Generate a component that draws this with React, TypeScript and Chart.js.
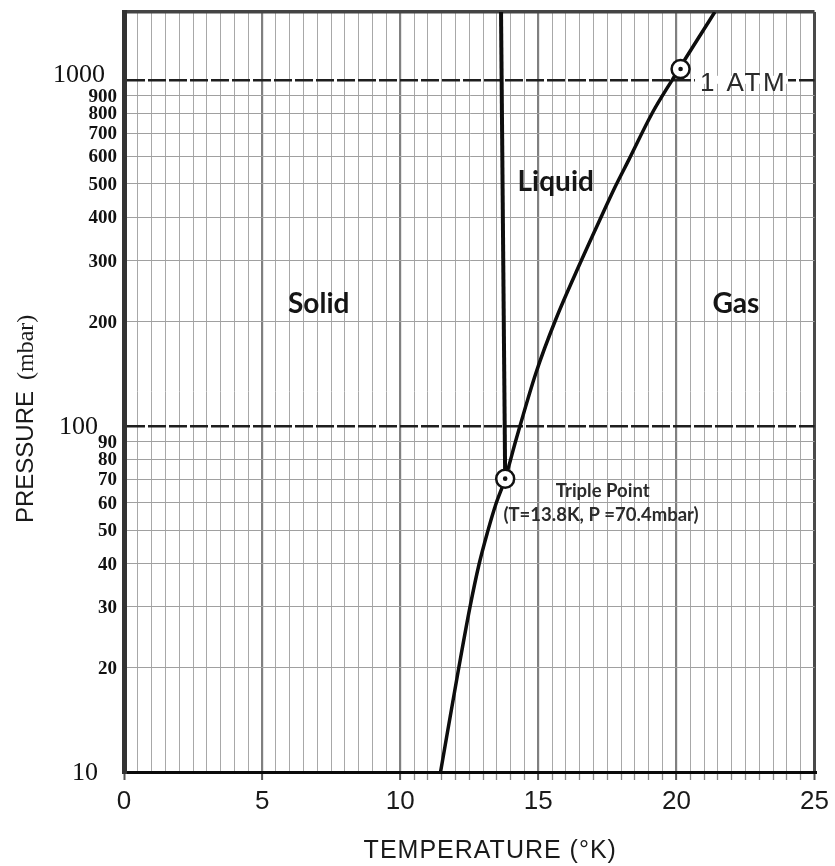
import React, { useEffect, useRef } from 'react';
import { Chart, registerables } from 'chart.js';

Chart.register(...registerables);

// ---------------- data ----------------
const T_MIN = 0;
const T_MAX = 25;
const T_STEP = 0.5;
const P_MIN = 10;
const P_MAX = 1570;

const xTickLabels = [0, 5, 10, 15, 20, 25];
const yMajorTicks = [10, 100, 1000];
const yMinorTicks = [20, 30, 40, 50, 60, 70, 80, 90, 200, 300, 400, 500, 600, 700, 800, 900];

// sublimation + vaporization curve
const vaporT = [11.46, 12.12, 12.52, 12.85, 13.15, 13.45, 13.8, 14.19, 14.91, 15.63, 16.52, 17.22, 17.8, 18.28, 19.13, 19.85, 21.39];
const vaporP = [10, 20, 29.8, 39.7, 49, 59, 70.4, 91, 142, 203, 296, 393, 494, 588, 803, 1000, 1570];

// melting curve
const meltT = [13.8, 13.65];
const meltP = [70.4, 1570];

// triple point, 1 atm boiling point
const markerT = [13.8, 20.15];
const markerP = [70.4, 1075];

const regionNames = ['Solid', 'Liquid', 'Gas'];
const regionT = [7.05, 15.63, 22.15];
const regionP = [225, 507, 225];

const tripleLines = ['Triple Point', '(T=13.8K, P =70.4mbar)'];
const tripleLineT = [17.33, 17.27];
const tripleLineP = [64.9, 55.3];

const atmLabel = '1 ATM';
const atmLabelT = 20.85;
const atmLabelP = 1000;

const xTitle = 'TEMPERATURE (°K)';
const yTitleMain = 'PRESSURE';
const yTitleUnit = '(mbar)';

// ---------------- helpers ----------------
const isMajorX = (v: number) => Math.abs(v % 5) < 1e-6;
const pts = (xs: number[], ys: number[]) => xs.map((v, i) => ({ x: v, y: ys[i] }));

const decorPlugin = {
  id: 'decor',
  afterDatasetsDraw(chart: any) {
    const { ctx, scales } = chart;
    const x = scales.x;
    const y = scales.y;
    ctx.save();
    // region names
    ctx.fillStyle = '#151515';
    ctx.font = 'bold 28px Lato';
    ctx.textAlign = 'center';
    ctx.textBaseline = 'middle';
    regionNames.forEach((n, i) => {
      ctx.fillText(n, x.getPixelForValue(regionT[i]), y.getPixelForValue(regionP[i]));
    });
    // triple point text
    ctx.fillStyle = '#2b2b2b';
    ctx.font = 'bold 18.5px Lato';
    tripleLines.forEach((t, i) => {
      ctx.fillText(t, x.getPixelForValue(tripleLineT[i]), y.getPixelForValue(tripleLineP[i]));
    });
    // 1 ATM label
    const ax = x.getPixelForValue(atmLabelT);
    const ay = y.getPixelForValue(atmLabelP);
    ctx.font = '26px "Liberation Sans"';
    (ctx as any).letterSpacing = '2.5px';
    const w = ctx.measureText(atmLabel).width;
    ctx.fillStyle = '#ffffff';
    ctx.fillRect(ax - 5, ay - 4, w + 6, 8);
    ctx.fillStyle = '#2a2a2a';
    ctx.textAlign = 'left';
    ctx.fillText(atmLabel, ax, ay + 4);
    (ctx as any).letterSpacing = '0px';
    ctx.restore();
  },
  afterDraw(chart: any) {
    const { ctx, scales, chartArea } = chart;
    const y = scales.y;
    ctx.save();
    ctx.fillStyle = '#111';
    ctx.textAlign = 'right';
    ctx.textBaseline = 'middle';
    ctx.font = '26px "Liberation Serif"';
    yMajorTicks.forEach((v) => {
      ctx.fillText(String(v), y.right - (v === 1000 ? 19 : 26), y.getPixelForValue(v) + (v === 1000 ? -5 : 1));
    });
    ctx.font = 'bold 19px "Liberation Serif"';
    yMinorTicks.forEach((v) => {
      ctx.fillText(String(v), y.right - 7, y.getPixelForValue(v) + 1);
    });
    // x title
    ctx.fillStyle = '#1a1a1a';
    ctx.textAlign = 'center';
    ctx.textBaseline = 'middle';
    ctx.font = '25px "Liberation Sans"';
    (ctx as any).letterSpacing = '1px';
    ctx.fillText(xTitle, (chartArea.left + chartArea.right) / 2 + 21, 851);
    (ctx as any).letterSpacing = '0px';
    // y title (rotated)
    ctx.translate(24, 523);
    ctx.rotate(-Math.PI / 2);
    ctx.textAlign = 'left';
    ctx.textBaseline = 'alphabetic';
    ctx.font = '24px "Liberation Sans"';
    const wMain = ctx.measureText(yTitleMain).width;
    ctx.fillText(yTitleMain, 0, 9);
    ctx.font = '24px "Liberation Serif"';
    ctx.fillText(yTitleUnit, wMain + 11, 9);
    ctx.restore();
  },
};

export default function App() {
  const ref = useRef<HTMLCanvasElement | null>(null);

  useEffect(() => {
    document.body.style.margin = '0';
    const canvas = ref.current;
    if (!canvas) return;
    const chart = new Chart(canvas, {
      type: 'line',
      data: {
        datasets: [
          {
            label: 'dots',
            data: pts(markerT, markerP),
            showLine: false,
            pointRadius: 2.3,
            pointBackgroundColor: '#111',
            pointBorderWidth: 0,
          },
          {
            label: 'circles',
            data: pts(markerT, markerP),
            showLine: false,
            pointRadius: 9,
            pointBackgroundColor: '#ffffff',
            pointBorderColor: '#111',
            pointBorderWidth: 2.5,
          },
          {
            label: 'melting',
            data: pts(meltT, meltP),
            borderColor: '#0d0d0d',
            borderWidth: 4,
            pointRadius: 0,
          },
          {
            label: 'vapor',
            data: pts(vaporT, vaporP),
            borderColor: '#0d0d0d',
            borderWidth: 3.5,
            pointRadius: 0,
            cubicInterpolationMode: 'monotone',
          },
        ],
      },
      options: {
        animation: false,
        responsive: false,
        devicePixelRatio: 1,
        layout: { padding: { top: 12, right: 17, left: 0, bottom: 0 } },
        plugins: { legend: { display: false }, tooltip: { enabled: false }, title: { display: false } },
        scales: {
          x: {
            type: 'linear',
            min: T_MIN,
            max: T_MAX,
            afterFit: (s: any) => { s.height = 94; },
            afterBuildTicks: (s: any) => {
              const t = [];
              for (let i = 0; i <= Math.round((T_MAX - T_MIN) / T_STEP); i++) t.push({ value: T_MIN + i * T_STEP });
              s.ticks = t;
            },
            ticks: {
              autoSkip: false,
              maxRotation: 0,
              padding: 6,
              color: '#1a1a1a',
              font: { family: '"Liberation Sans"', size: 26 },
              callback: (v: any) => (xTickLabels.includes(Number(v)) ? String(v) : ''),
            },
            grid: {
              color: (c: any) => {
                const v = c.tick?.value;
                if (v === T_MIN) return '#333';
                if (v === T_MAX) return '#4a4a4a';
                return isMajorX(v) ? '#808080' : '#a8a8a8';
              },
              lineWidth: (c: any) => {
                const v = c.tick?.value;
                if (v === T_MIN) return 5;
                if (v === T_MAX) return 3;
                return isMajorX(v) ? 2.2 : 1;
              },
              tickLength: 8,
              tickColor: (c: any) => {
                const v = c.tick?.value;
                if (isMajorX(v)) return '#555';
                return v > 10 ? '#888' : 'rgba(0,0,0,0)';
              },
              tickWidth: (c: any) => (isMajorX(c.tick?.value) ? 2 : 1.3),
            },
            border: { display: true, color: '#0a0a0a', width: 3 },
          },
          y: {
            type: 'logarithmic',
            min: P_MIN,
            max: P_MAX,
            afterFit: (s: any) => { s.width = 124; },
            afterBuildTicks: (s: any) => {
              s.ticks = [...yMajorTicks, ...yMinorTicks, P_MAX].sort((a, b) => a - b).map((v) => ({ value: v }));
            },
            ticks: { display: false },
            grid: {
              drawTicks: false,
              color: (c: any) => {
                const v = c.tick?.value;
                if (v === P_MIN) return '#0a0a0a';
                if (v === 100 || v === 1000) return '#1e1e1e';
                if (v === P_MAX) return '#444';
                return '#a0a0a0';
              },
              lineWidth: (c: any) => {
                const v = c.tick?.value;
                if (v === P_MIN) return 3;
                if (v === 100 || v === 1000) return 2.5;
                if (v === P_MAX) return 3.5;
                return 1;
              },
            },
            border: {
              display: true,
              color: '#333',
              width: 5,
              dash: (c: any) => {
                const v = c.tick?.value;
                return v === 100 || v === 1000 ? [18, 3] : [];
              },
            },
          },
        },
      },
      plugins: [decorPlugin],
    } as any);
    return () => chart.destroy();
  }, []);

  return (
    <div style={{ width: 835, height: 866 }}>
      <canvas ref={ref} width={835} height={866} style={{ display: 'block' }} />
    </div>
  );
}
